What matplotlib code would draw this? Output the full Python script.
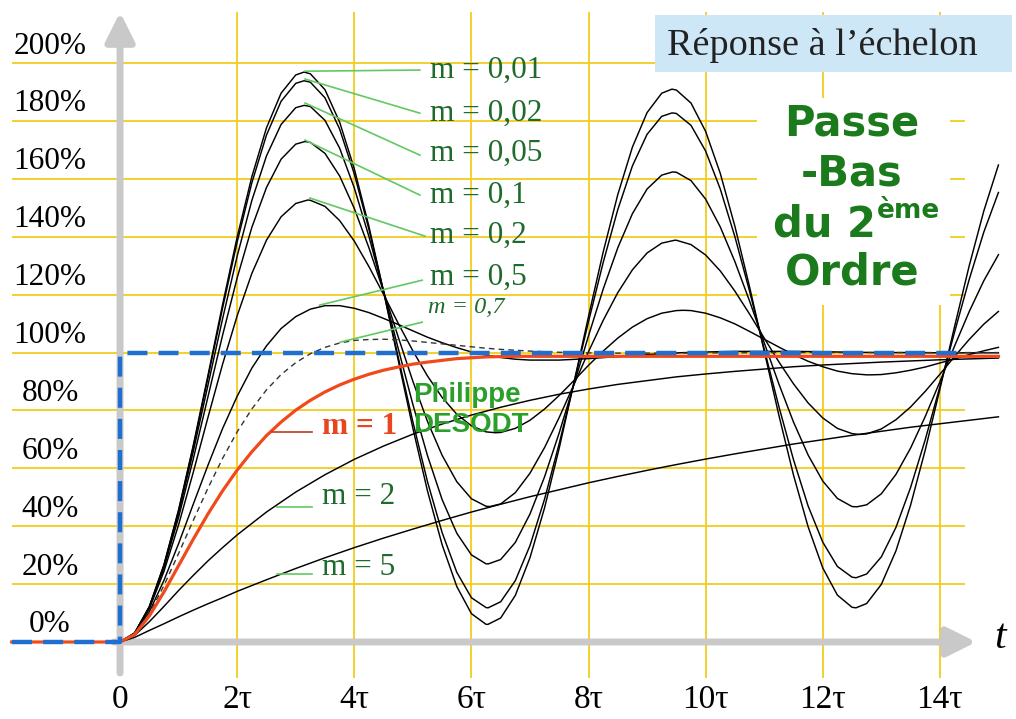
import numpy as np
import matplotlib.pyplot as plt
from matplotlib.patches import Rectangle

# time samples (in units of tau)
T_FINE = np.arange(61) * 0.25                                   # 0 .. 15
T_MIXED = np.r_[np.arange(28) * 0.25, 7 + np.arange(17) * 0.5]  # 0 .. 6.75 by 0.25, 7 .. 15 by 0.5
T_SLOW = np.r_[np.arange(8) * 0.25, 2 + np.arange(27) * 0.5]    # 0 .. 1.75 by 0.25, 2 .. 15 by 0.5
T_START = -1.85

# step responses, %
m_001 = [0, 3.1, 12.2, 26.7, 45.7, 67.9, 92.0, 116.5, 139.9, 160.7, 177.6, 189.6, 195.9, 196.3, 190.8,
         179.6, 163.5, 143.6, 121.1, 97.4, 73.9, 52.2, 33.6, 19.2, 9.8, 6.1, 8.3, 16.1, 29.1, 46.4,
         67.0, 89.5, 112.5, 134.7, 154.6, 171.0, 182.9, 189.6, 190.7, 186.2, 176.4, 161.9, 143.6,
         122.7, 100.5, 78.4, 57.7, 39.8, 25.6, 16.2, 12.0, 13.3, 19.9, 31.5, 47.3, 66.3, 87.3, 108.9,
         129.9, 148.9, 164.8]
m_002 = [0, 3.1, 12.2, 26.6, 45.4, 67.4, 91.2, 115.3, 138.2, 158.6, 175.1, 186.8, 193.0, 193.4, 188.0,
         177.2, 161.7, 142.6, 121.1, 98.4, 76.1, 55.4, 37.8, 24.1, 15.3, 11.9, 13.9, 21.2, 33.3, 49.4,
         68.6, 89.4, 110.7, 131.1, 149.4, 164.5, 175.4, 181.6, 182.6, 178.5, 169.6, 156.5, 140.0,
         121.2, 101.2, 81.4, 63.0, 47.0, 34.5, 26.1, 22.4, 23.5, 29.4, 39.6, 53.4, 69.9, 88.2, 107.0,
         125.2, 141.6, 155.3]
m_005 = [0, 3.1, 12.0, 26.2, 44.5, 65.8, 88.6, 111.6, 133.3, 152.5, 167.9, 178.8, 184.6, 185.0, 180.2,
         170.6, 156.9, 140.1, 121.2, 101.4, 82.1, 64.4, 49.2, 37.6, 30.1, 27.0, 28.5, 34.4, 44.2, 57.1,
         72.3, 88.9, 105.8, 121.9, 136.2, 148.0, 156.5, 161.3, 162.3, 159.4, 153.0, 143.4, 131.4,
         117.8, 103.4, 89.2, 76.0, 64.6, 55.6, 49.6, 46.8, 47.4, 51.2, 57.9, 67.0, 77.9, 89.9, 102.2,
         114.1, 124.8, 133.8]
m_01 = [0, 3.1, 11.8, 25.6, 43.1, 63.2, 84.6, 105.9, 125.8, 143.2, 157.0, 166.8, 172.0, 172.6, 168.8,
        161.0, 149.8, 136.2, 121.1, 105.4, 90.1, 76.2, 64.5, 55.4, 49.5, 46.9, 47.7, 51.6, 58.3, 67.2,
        77.6, 88.9, 100.3, 111.1, 120.7, 128.6, 134.4, 137.8, 138.8, 137.3, 133.7, 128.2, 121.2,
        113.3, 105.0, 96.8, 89.2, 82.6, 77.4, 73.8, 72.0, 71.9, 73.6, 76.8, 81.2, 86.6, 92.5, 98.6,
        104.5, 109.8, 114.2]
m_02 = [0, 3.0, 11.5, 24.4, 40.5, 58.6, 77.5, 95.9, 112.7, 127.3, 138.8, 146.9, 151.5, 152.6, 150.5,
        145.6, 138.5, 129.7, 120.1, 110.1, 100.6, 91.9, 84.5, 78.7, 74.7, 72.6, 72.4, 73.8, 76.6, 80.5,
        85.2, 90.3, 95.6, 100.5, 105.0, 108.8, 111.7, 113.6, 114.5, 114.5, 113.6, 112.0, 109.9,
        107.3, 104.6, 101.9, 99.3, 97.0, 95.1, 93.6, 92.7, 92.3, 92.4, 93.0, 93.9, 95.0, 96.4, 97.8,
        99.3, 100.6, 101.8]

# peaks and troughs of the oscillating curves (time, %)
ext_001_t = [3.1416, 6.2832, 9.4248, 12.5664]
ext_001 = [196.9, 6.1, 191.0, 11.8]
ext_002_t = [3.1422, 6.2845, 9.4267, 12.569]
ext_002 = [193.9, 11.8, 182.8, 22.2]
ext_005_t = [3.1455, 6.2910, 9.4365, 12.582]
ext_005 = [185.4, 27.0, 162.4, 46.7]
ext_01_t = [3.1574, 6.3148, 9.4722, 12.6296]
ext_01 = [172.9, 46.8, 138.8, 71.7]
ext_02_t = [3.2064, 6.4128, 9.6192, 12.8256]
ext_02 = [152.7, 72.3, 114.6, 92.3]

m_05 = [0, 2.9, 10.4, 21.3, 34.0, 47.6, 61.0, 73.7, 84.9, 94.6, 102.3, 108.3, 112.4, 115.0, 116.2,
        116.2, 115.3, 113.8, 111.8, 109.7, 107.5, 105.3, 103.4, 101.7, 100.2, 99.1, 98.3, 97.7,
        97.4, 97.4, 97.9, 98.6, 99.3, 99.9, 100.2, 100.4, 100.4, 100.4, 100.3, 100.1, 100.0, 100.0,
        99.9, 99.9, 99.9]
m_07 = [0, 2.8, 9.8, 19.5, 30.6, 42.0, 53.1, 63.4, 72.6, 80.5, 87.1, 92.4, 96.5, 99.6, 101.8, 103.3,
        104.2, 104.5, 104.6, 104.4, 104.0, 103.5, 103.0, 102.5, 102.0, 101.5, 101.1, 100.8,
        100.5, 100.1, 99.9, 99.8, 99.8, 99.8, 99.9, 99.9, 100.0, 100.0, 100.0, 100.0, 100.0, 100.0,
        100.0, 100.0, 100.0]
m_1 = [0, 2.6, 9.0, 17.3, 26.4, 35.5, 44.2, 52.2, 59.4, 65.7, 71.3, 76.0, 80.1, 83.5, 86.4, 88.8,
       90.8, 92.5, 93.9, 95.0, 96.0, 96.7, 97.3, 97.9, 98.2, 98.5, 98.6, 98.7,
       98.7, 98.7, 98.7, 98.7, 98.7, 98.7, 98.7, 98.7, 98.7, 98.7, 98.7, 98.7, 98.7, 98.7, 98.7,
       98.7, 98.7]
m_2 = [0, 2.3, 7.0, 12.3, 17.8, 23.0, 28.0, 32.6, 37.0, 44.9, 51.8, 57.8, 63.1, 67.7, 71.8, 75.3,
       78.4, 81.1, 83.5, 85.6, 87.4, 89.0, 90.3, 91.6, 92.6, 93.5, 94.3, 95.1, 95.7, 96.2, 96.7,
       97.1, 97.5, 97.8, 98.1]
m_5 = [0, 1.6, 4.0, 6.3, 8.7, 11.0, 13.2, 15.3, 17.5, 21.5, 25.4, 29.1, 32.6, 35.9, 39.0, 42.0,
       44.9, 47.6, 50.2, 52.6, 55.0, 57.2, 59.3, 61.3, 63.2, 65.0, 66.7, 68.4, 69.9, 71.4, 72.8,
       74.2, 75.4, 76.6, 77.8]

# input step
step_t = [T_START, 0, 0, 14.3]
step_v = [0, 0, 100, 100]

y_ticks = list(range(0, 201, 20))
x_ticks = list(range(0, 15, 2))
x_tick_labels = ['0'] + [f'{k}τ' for k in x_ticks[1:]]

SERIF = 'Liberation Serif'
GREEN_LBL = '#1f6b2c'
LEADER = '#62c862'
GRID = '#f2cd1c'


def merged(t, vals, t_ext, v_ext):
    tt = np.r_[T_START, t, t_ext]
    vv = np.r_[0, vals, v_ext]
    order = np.argsort(tt, kind='stable')
    return tt[order], vv[order]


fig = plt.figure(figsize=(10.16, 7.19), dpi=100)
ax = fig.add_axes([0, 0, 1, 1])
ax.set_xlim(-2.05, 15.30)
ax.set_ylim(-26.6, 221.8)
ax.axis('off')

# grid
ax.hlines(y_ticks[1:], -1.84, 14.43, color=GRID, lw=1.3, zorder=1)
ax.vlines(x_ticks[1:], -12.4, 217.6, color=GRID, lw=1.3, zorder=1)

# boxes hiding part of the grid
ax.add_patch(Rectangle((9.13, 196.9), 6.1, 19.7, fc='#cde7f6', ec='none', zorder=2))
ax.add_patch(Rectangle((10.88, 116.4), 3.29, 71.5, fc='white', ec='none', zorder=2))
ax.add_patch(Rectangle((13.6, 187.0), 0.6, 10.0, fc='white', ec='none', zorder=2))

# gray axes with arrows
arrow = dict(arrowstyle='-|>,head_length=0.8,head_width=0.4', color='#c9c9c9', lw=5,
             mutation_scale=22, shrinkA=0, shrinkB=0)
ax.annotate('', xy=(0, 217.6), xytext=(0, -10.7), arrowprops=arrow, zorder=3)
ax.annotate('', xy=(14.62, 0), xytext=(-0.1, 0), arrowprops=arrow, zorder=3)

# curves
line_kw = dict(color='black', lw=1.05, zorder=4, solid_joinstyle='round')
for vals, te, ve in [(m_001, ext_001_t, ext_001), (m_002, ext_002_t, ext_002),
                     (m_005, ext_005_t, ext_005), (m_01, ext_01_t, ext_01),
                     (m_02, ext_02_t, ext_02)]:
    ax.plot(*merged(T_FINE, vals, te, ve), **line_kw)
ax.plot(*merged(T_MIXED, m_05, [], []), **line_kw)
ax.plot(*merged(T_SLOW, m_2, [], []), **line_kw)
ax.plot(*merged(T_SLOW, m_5, [], []), **line_kw)
ax.plot(*merged(T_MIXED, m_07, [], []), color='#333333', lw=1.0,
        linestyle=(0, (4, 3)), zorder=4)
ax.plot(*merged(T_MIXED, m_1, [], []), color='#f04a1c', lw=2.3, zorder=5,
        solid_joinstyle='round')
ax.plot(step_t, step_v, color='#1f6fd1', lw=3.2, linestyle=(0, (4.5, 2.5)), zorder=6)

# tick labels
for v in y_ticks:
    ax.text(-1.195, v + 5.9, f'{v}%', ha='center', va='center', fontsize=22.5, family=SERIF)
for k, lab in zip(x_ticks, x_tick_labels):
    ax.text(k, -20.0, lab, ha='center', va='center', fontsize=24, family=SERIF)
ax.text(15.02, 1.5, 't', ha='center', va='center', fontsize=30, family=SERIF, style='italic')

# titles
ax.text(12.0, 206.2, 'Réponse à l’échelon', ha='center', va='center', fontsize=27.5,
        family=SERIF, color='#222222', zorder=7)
pb = dict(fontsize=30, fontweight='bold', family='DejaVu Sans', color='#1b7a1b', zorder=7)
ax.text(12.5, 179.3, 'Passe', ha='center', va='center', **pb)
ax.text(12.5, 162.0, '-Bas', ha='center', va='center', **pb)
ax.text(12.9, 144.4, 'du 2', ha='right', va='center', **pb)
ax.text(12.92, 148.8, 'ème', ha='left', va='center', fontsize=19, fontweight='bold',
        family='DejaVu Sans', color='#1b7a1b', zorder=7)
ax.text(12.5, 127.5, 'Ordre', ha='center', va='center', **pb)
ax.text(5.0, 80.1, 'Philippe\nDESODT', ha='left', va='center', fontsize=20, fontweight='bold',
        family='Liberation Sans', color='#2aa02a', zorder=7)

# curve labels with leader lines
labels = ['m = 0,01', 'm = 0,02', 'm = 0,05', 'm = 0,1', 'm = 0,2', 'm = 0,5']
label_v = [197.6, 182.7, 168.9, 154.4, 140.6, 126.1]
leaders = [((3.16, 197.2), (5.12, 197.6)), ((3.16, 194.5), (5.12, 182.7)),
           ((3.16, 186.2), (5.12, 168.2)), ((3.16, 173.4), (5.12, 154.4)),
           ((3.24, 153.4), (5.21, 140.2)), ((3.41, 116.4), (5.16, 125.0))]
for lab, v, (p0, p1) in zip(labels, label_v, leaders):
    ax.plot([p0[0], p1[0]], [p0[1], p1[1]], color=LEADER, lw=1.2, zorder=6)
    ax.text(5.29, v, lab, ha='left', va='center', fontsize=22.5, family=SERIF,
            color=GREEN_LBL, zorder=7)

ax.plot([3.76, 5.16], [103.6, 110.5], color=LEADER, lw=1.2, zorder=6)
ax.text(5.26, 115.4, 'm = 0,7', ha='left', va='center', fontsize=17.5, family=SERIF,
        style='italic', color=GREEN_LBL, zorder=7)

ax.plot([2.60, 3.28], [72.5, 72.5], color='#c0391b', lw=1.2, zorder=6)
ax.text(3.45, 74.3, 'm = 1', ha='left', va='center', fontsize=22.5, family=SERIF,
        fontweight='bold', color='#e8461e', zorder=7)
ax.plot([2.68, 3.28], [46.6, 46.6], color=LEADER, lw=1.2, zorder=6)
ax.text(3.45, 50.1, 'm = 2', ha='left', va='center', fontsize=22.5, family=SERIF,
        color=GREEN_LBL, zorder=7)
ax.plot([2.68, 3.28], [23.5, 23.5], color=LEADER, lw=1.2, zorder=6)
ax.text(3.45, 25.9, 'm = 5', ha='left', va='center', fontsize=22.5, family=SERIF,
        color=GREEN_LBL, zorder=7)

fig.savefig('out.png', dpi=100)
